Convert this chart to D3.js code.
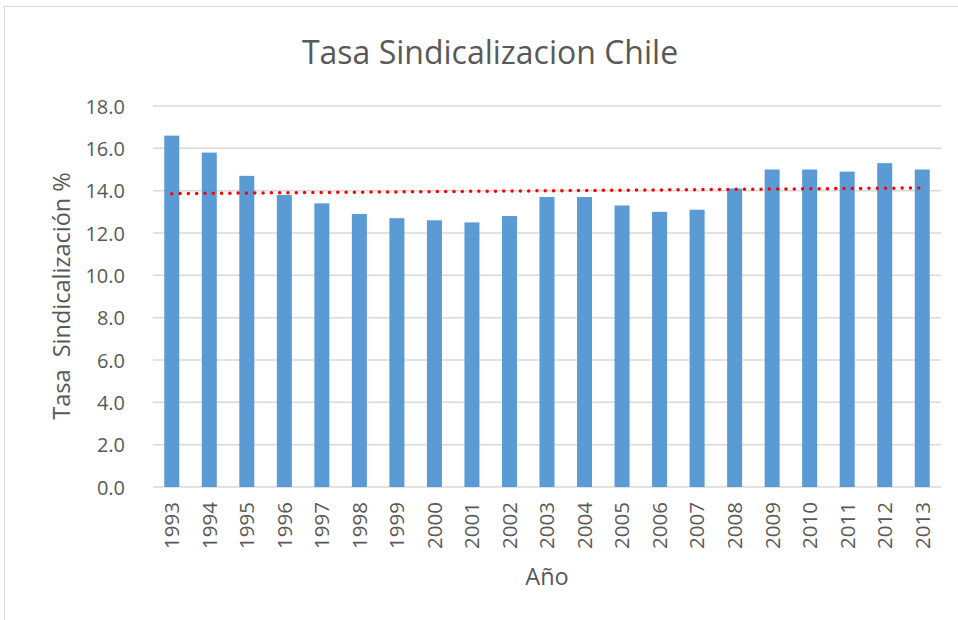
<!DOCTYPE html>
<html>
<head>
<meta charset="utf-8">
<script src="https://cdn.jsdelivr.net/npm/d3@7"></script>
<style>
  body { margin: 0; background: #fff; }
  svg text { font-family: "Open Sans", sans-serif; fill: #595959; }
</style>
</head>
<body>
<div id="chart"></div>
<script>
const years = ['1993','1994','1995','1996','1997','1998','1999','2000','2001','2002','2003',
               '2004','2005','2006','2007','2008','2009','2010','2011','2012','2013'];
const rates = [16.6, 15.8, 14.7, 13.8, 13.4, 12.9, 12.7, 12.6, 12.5, 12.8, 13.7,
               13.7, 13.3, 13.0, 13.1, 14.1, 15.0, 15.0, 14.9, 15.3, 15.0];
const yTicks = [0, 2, 4, 6, 8, 10, 12, 14, 16, 18];

const width = 958, height = 620;
const margin = {top: 106, right: 17, bottom: 133, left: 153};

let data = years.map((y, i) => ({year: y, value: rates[i]}));

let svg = d3.select('#chart')
            .append('svg')
            .attr('width', width)
            .attr('height', height);

// chart frame (runs off the right and bottom edges)
svg.append('rect')
   .attr('x', 4.5)
   .attr('y', 6.5)
   .attr('width', width + 10)
   .attr('height', height + 10)
   .attr('fill', 'none')
   .attr('stroke', '#d9d9d9')
   .attr('stroke-width', 1);

let x = d3.scaleBand()
          .domain(years)
          .range([margin.left, width - margin.right])
          .paddingInner(0.6)
          .paddingOuter(0.3);

let y = d3.scaleLinear()
          .domain([0, 18])
          .range([height - margin.bottom, margin.top]);

// gridlines
svg.append('g')
   .selectAll('line')
   .data(yTicks)
   .enter().append('line')
   .attr('x1', margin.left)
   .attr('x2', width - margin.right)
   .attr('y1', d => y(d))
   .attr('y2', d => y(d))
   .attr('stroke', '#d9d9d9')
   .attr('stroke-width', 1.5);

// y tick labels
let yAxis = svg.append('g')
   .attr('transform', 'translate(' + (margin.left - 28) + ',0)')
   .call(d3.axisLeft(y).tickValues(yTicks).tickFormat(d3.format('.1f')).tickSize(0).tickPadding(0));
yAxis.select('.domain').remove();
yAxis.selectAll('text').attr('font-size', 20).attr('dy', '0.35em').style('fill', '#595959');

// bars
svg.append('g')
   .selectAll('rect')
   .data(data)
   .enter().append('rect')
   .attr('x', d => x(d.year))
   .attr('width', x.bandwidth())
   .attr('y', d => y(d.value))
   .attr('height', d => y(0) - y(d.value))
   .attr('fill', '#5b9bd5');

// x labels, rotated
let xAxis = svg.append('g')
   .attr('transform', 'translate(0,' + y(0) + ')')
   .call(d3.axisBottom(x).tickSize(0).tickPadding(0));
xAxis.select('.domain').remove();
xAxis.selectAll('text')
     .attr('font-size', 20.5)
     .attr('transform', 'rotate(-90)')
     .attr('text-anchor', 'end')
     .attr('x', -15)
     .attr('y', 0)
     .attr('dy', '0.36em')
     .style('fill', '#595959');

// linear trendline (least squares)
let n = rates.length;
let xm = d3.mean(rates, (d, i) => i);
let ym = d3.mean(rates);
let slope = d3.sum(rates, (d, i) => (i - xm) * (d - ym)) / d3.sum(rates, (d, i) => (i - xm) * (i - xm));
let icpt = ym - slope * xm;
let trend = [0, n - 1].map(i => ({year: years[i], value: icpt + slope * i}));

svg.append('path')
   .datum(trend)
   .attr('d', d3.line()
                .x(d => x(d.year) + x.bandwidth() / 2)
                .y(d => y(d.value)))
   .attr('fill', 'none')
   .attr('stroke', '#ff0000')
   .attr('stroke-width', 3.5)
   .attr('stroke-linecap', 'round')
   .attr('stroke-dasharray', '0,8.3');

// title
svg.append('text')
   .attr('x', 490)
   .attr('y', 64)
   .attr('text-anchor', 'middle')
   .attr('font-size', 32)
   .text('Tasa Sindicalizacion Chile');

// axis titles
svg.append('text')
   .attr('x', 547)
   .attr('y', 585)
   .attr('text-anchor', 'middle')
   .attr('font-size', 23.5)
   .text('Año');

svg.append('text')
   .attr('transform', 'translate(70,' + 296 + ') rotate(-90)')
   .attr('text-anchor', 'middle')
   .attr('font-size', 23.5)
   .attr('xml:space', 'preserve')
   .style('white-space', 'pre')
   .text('Tasa  Sindicalización %');
</script>
</body>
</html>
